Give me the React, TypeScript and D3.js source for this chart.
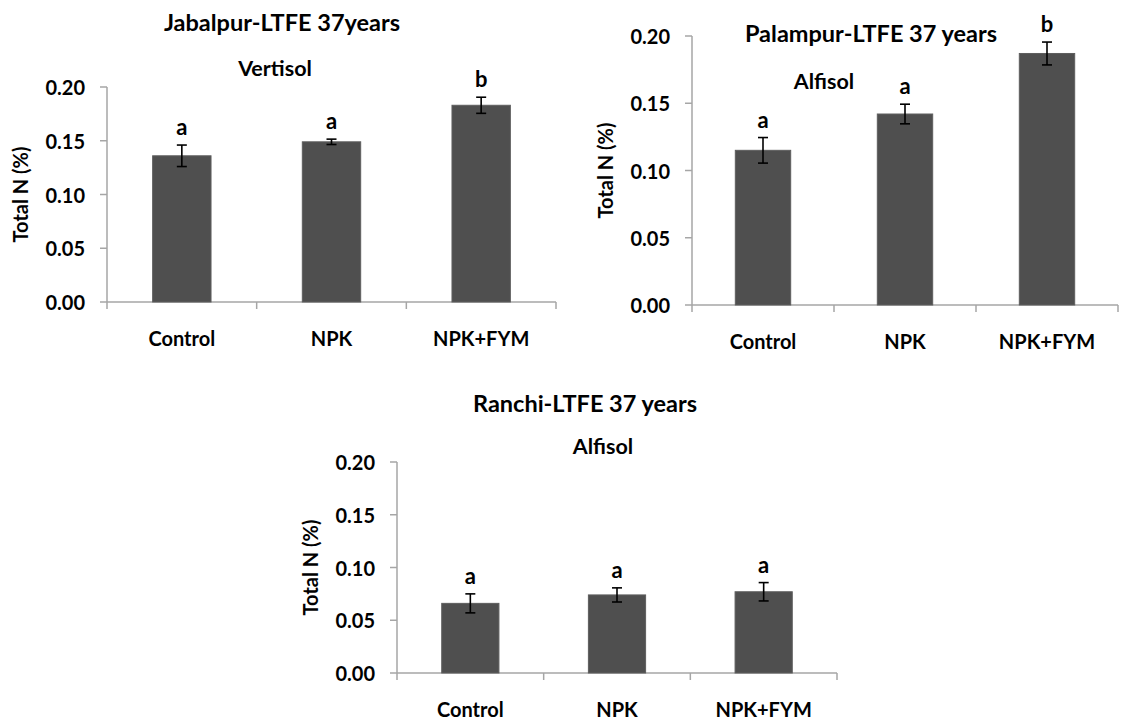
import React from 'react';
import * as d3 from 'd3';

// treatments shared by all three sites
const categories = ['Control', 'NPK', 'NPK+FYM'];
const yTicks = [0, 0.05, 0.1, 0.15, 0.2];

// Jabalpur (Vertisol)
const jabalpurValues = [0.136, 0.149, 0.183];
const jabalpurErrors = [0.010, 0.0025, 0.0075];
const jabalpurLetters = ['a', 'a', 'b'];

// Palampur (Alfisol)
const palampurValues = [0.115, 0.142, 0.187];
const palampurErrors = [0.0095, 0.0073, 0.0085];
const palampurLetters = ['a', 'a', 'b'];

// Ranchi (Alfisol)
const ranchiValues = [0.066, 0.074, 0.077];
const ranchiErrors = [0.009, 0.0067, 0.0087];
const ranchiLetters = ['a', 'a', 'a'];

const FONT = 'Lato, "Open Sans", sans-serif';
const AXIS = '#a6a6a6';
const BAR = '#4f4f4f';

type PanelProps = {
  title: string;
  subtitle: string;
  values: number[];
  errors: number[];
  letters: string[];
  left: number;
  right: number;
  top: number;
  bottom: number;
  titlePos: [number, number];
  subtitlePos: [number, number];
};

const Panel = ({ title, subtitle, values, errors, letters, left, right, top, bottom, titlePos, subtitlePos }: PanelProps) => {
  const x = d3.scaleBand<string>().domain(categories).range([left, right]).padding(0);
  const y = d3.scaleLinear().domain([0, 0.2]).range([bottom, top]);
  const bw = x.bandwidth() * 0.39;
  const tickLen = 7;

  return (
    <g>
      {/* titles */}
      <text x={titlePos[0]} y={titlePos[1]} textAnchor="middle" dominantBaseline="central"
        fontFamily={FONT} fontWeight={700} fontSize={23.5}>{title}</text>
      <text x={subtitlePos[0]} y={subtitlePos[1]} textAnchor="middle" dominantBaseline="central"
        fontFamily={FONT} fontWeight={700} fontSize={21.5}>{subtitle}</text>

      {/* y axis */}
      <line x1={left} x2={left} y1={y(0.2)} y2={bottom + tickLen} stroke={AXIS} strokeWidth={1.5} />
      {yTicks.map(t => (
        <g key={t}>
          <line x1={left - tickLen} x2={left} y1={y(t)} y2={y(t)} stroke={AXIS} strokeWidth={1.5} />
          <text x={left - 22} y={y(t)} textAnchor="end" dominantBaseline="central"
            fontFamily={FONT} fontWeight={700} fontSize={20}>{d3.format('.2f')(t)}</text>
        </g>
      ))}
      <text transform={`translate(${left - 87},${(top + bottom) / 2}) rotate(-90)`} textAnchor="middle"
        dominantBaseline="central" fontFamily={FONT} fontWeight={700} fontSize={20}>Total N (%)</text>

      {/* x axis */}
      <line x1={left} x2={right} y1={bottom} y2={bottom} stroke={AXIS} strokeWidth={1.5} />
      {categories.map(c => (
        <line key={c} x1={(x(c) as number) + x.bandwidth()} x2={(x(c) as number) + x.bandwidth()}
          y1={bottom} y2={bottom + tickLen} stroke={AXIS} strokeWidth={1.5} />
      ))}

      {/* bars, error bars, letters */}
      {categories.map((c, i) => {
        const cx = (x(c) as number) + x.bandwidth() / 2;
        const hi = y(values[i] + errors[i]);
        const lo = y(values[i] - errors[i]);
        return (
          <g key={c}>
            <rect x={cx - bw / 2} y={y(values[i])} width={bw} height={bottom - y(values[i])}
              fill={BAR} stroke="#5e5e5e" strokeWidth={1} />
            <line x1={cx} x2={cx} y1={hi} y2={lo} stroke="#000" strokeWidth={1.6} />
            <line x1={cx - 5} x2={cx + 5} y1={hi} y2={hi} stroke="#000" strokeWidth={1.6} />
            <line x1={cx - 5} x2={cx + 5} y1={lo} y2={lo} stroke="#000" strokeWidth={1.6} />
            <text x={cx} y={hi - 10} textAnchor="middle" fontFamily={FONT} fontWeight={700}
              fontSize={22}>{letters[i]}</text>
            <text x={cx} y={bottom + 36} textAnchor="middle" dominantBaseline="central"
              fontFamily={FONT} fontWeight={700} fontSize={20}>{c}</text>
          </g>
        );
      })}
    </g>
  );
};

export default function App() {
  return (
    <svg width={1123} height={723} style={{ position: 'absolute', left: 0, top: 0, background: '#fff' }}>
      <rect width={1123} height={723} fill="#fff" />
      <Panel title="Jabalpur-LTFE 37years" subtitle="Vertisol" values={jabalpurValues} errors={jabalpurErrors}
        letters={jabalpurLetters} left={107} right={556} top={87} bottom={302}
        titlePos={[282, 22]} subtitlePos={[275, 68]} />
      <Panel title="Palampur-LTFE 37 years" subtitle="Alfisol" values={palampurValues} errors={palampurErrors}
        letters={palampurLetters} left={692} right={1118} top={36} bottom={305}
        titlePos={[871, 33]} subtitlePos={[824, 81]} />
      <Panel title="Ranchi-LTFE 37 years" subtitle="Alfisol" values={ranchiValues} errors={ranchiErrors}
        letters={ranchiLetters} left={397} right={837} top={462} bottom={673}
        titlePos={[585, 403]} subtitlePos={[603, 446]} />
    </svg>
  );
}
